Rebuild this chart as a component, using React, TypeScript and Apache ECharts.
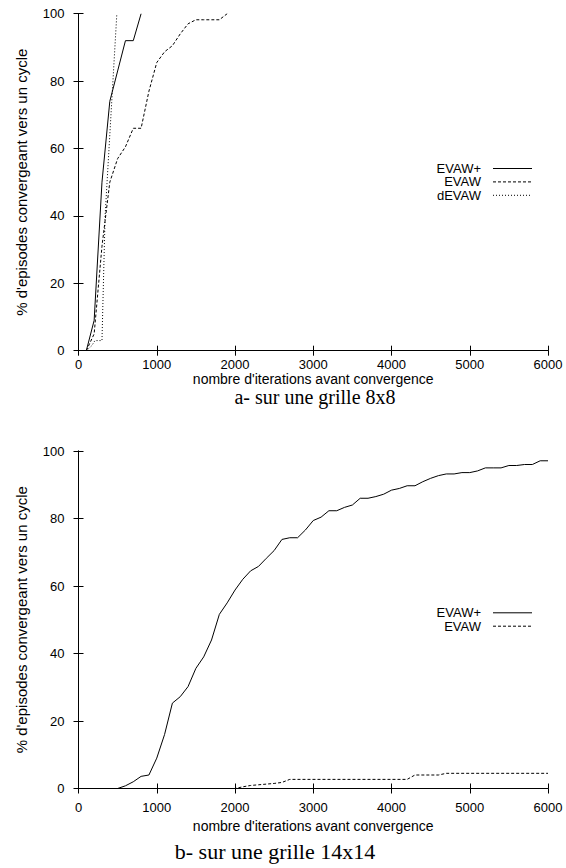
import React, { useEffect, useRef } from "react";
import * as echarts from "echarts";

// ---- data: grid 8x8 (top) ----
const topEvawPlus: [number, number][] = [
  [100, 0], [200, 9], [300, 50], [400, 74], [500, 83], [600, 92], [700, 92], [800, 100],
];
const topEvaw: [number, number][] = [
  [100, 0], [200, 5], [300, 31], [400, 50], [500, 57], [600, 60.5], [700, 66], [800, 66],
  [900, 77], [1000, 85.5], [1100, 88.7], [1200, 90.5], [1300, 94], [1400, 97], [1500, 98.2],
  [1600, 98.2], [1700, 98.2], [1800, 98.2], [1900, 100],
];
const topDEvaw: [number, number][] = [
  [100, 0], [170, 1.5], [210, 3], [300, 3], [340, 40], [490, 100],
];

// ---- data: grid 14x14 (bottom) ----
const botX: number[] = [
  0, 500, 600, 700, 800, 900, 1000, 1100, 1200, 1300, 1400, 1500, 1600, 1700, 1800, 1900,
  2000, 2100, 2200, 2300, 2400, 2500, 2600, 2700, 2800, 2900, 3000, 3100, 3200, 3300, 3400,
  3500, 3600, 3700, 3800, 3900, 4000, 4100, 4200, 4300, 4400, 4500, 4600, 4700, 4800, 4900,
  5000, 5100, 5200, 5300, 5400, 5500, 5600, 5700, 5800, 5900, 6000,
];
const botEvawPlusY: number[] = [
  0, 0, 0.8, 2, 3.6, 4, 9, 16, 25.3, 27.2, 30.2, 35.6, 39, 44, 51.6, 55,
  58.8, 62, 64.5, 65.8, 68.2, 70.5, 73.8, 74.3, 74.3, 76.6, 79.4, 80.4, 82.3, 82.3, 83.3,
  84, 86, 86, 86.5, 87.2, 88.4, 88.9, 89.7, 89.7, 90.9, 91.9, 92.7, 93.2, 93.2, 93.6,
  93.6, 94.1, 95, 95, 95, 95.7, 95.7, 96, 96, 97.1, 97.1,
];
const botEvaw: [number, number][] = [
  [0, 0], [2000, 0], [2100, 0.5], [2200, 0.9], [2300, 1.1], [2400, 1.3], [2500, 1.5],
  [2600, 1.8], [2700, 2.7], [4200, 2.7], [4300, 4], [4600, 4], [4700, 4.5], [6000, 4.5],
];

const xMin = 0, xMax = 6000, xStep = 1000;
const yMin = 0, yMax = 100, yStep = 20;

const xName = "nombre d'iterations avant convergence";
const yName = "% d'episodes convergeant vers un cycle";
const titleTop = "a- sur une grille 8x8";
const titleBot = "b- sur une grille 14x14";
const legendTop = ["EVAW+", "EVAW", "dEVAW"];
const legendBot = ["EVAW+", "EVAW"];

const SANS = '"Liberation Sans", Arial, sans-serif';
const SERIF = '"Liberation Serif", "Times New Roman", serif';
const DASH = [3, 2];
const DOT = [1, 2];

export default function App() {
  const ref = useRef<HTMLDivElement>(null);
  useEffect(() => {
    if (!ref.current) return;
    const chart = echarts.init(ref.current, null, { renderer: "svg" });

    const grids = [
      { left: 78.5, top: 13.7, width: 469.5, height: 337 },
      { left: 78.5, top: 451, width: 469.5, height: 337.5 },
    ];
    const axisLine = { show: true, lineStyle: { color: "#000", width: 1 } };
    const tick = { show: true, inside: true, length: 5, lineStyle: { color: "#000", width: 1 } };
    const label = { color: "#000", fontSize: 13, fontFamily: SANS };
    const xLabelMargin = [7, 12];
    const xNameGap = [20, 30];

    const xAxes: any[] = [];
    const yAxes: any[] = [];
    for (let g = 0; g < 2; g++) {
      xAxes.push({
        type: "value", gridIndex: g, position: "bottom", min: xMin, max: xMax, interval: xStep,
        axisLine, axisTick: tick, splitLine: { show: false },
        axisLabel: { ...label, margin: xLabelMargin[g], formatter: (v: number) => String(v) },
        name: xName, nameLocation: "middle", nameGap: xNameGap[g],
        nameTextStyle: { color: "#000", fontSize: 14, fontFamily: SANS },
      });
      xAxes.push({
        type: "value", gridIndex: g, position: "top", min: xMin, max: xMax, interval: xStep,
        axisLine, axisTick: tick, splitLine: { show: false }, axisLabel: { show: false },
      });
      yAxes.push({
        type: "value", gridIndex: g, position: "left", min: yMin, max: yMax, interval: yStep,
        axisLine, axisTick: tick, splitLine: { show: false },
        axisLabel: { ...label, margin: 14 },
        name: yName, nameLocation: "middle", nameGap: 50,
        nameTextStyle: { color: "#000", fontSize: 15, fontFamily: SANS },
      });
      yAxes.push({
        type: "value", gridIndex: g, position: "right", min: yMin, max: yMax, interval: yStep,
        axisLine, axisTick: tick, splitLine: { show: false }, axisLabel: { show: false },
      });
    }

    const mk = (name: string, data: any[], g: number, dash: any) => ({
      type: "line", name, data, xAxisIndex: g * 2, yAxisIndex: g * 2,
      showSymbol: false, symbol: "none", silent: true,
      lineStyle: { color: "#000", width: 1, type: dash },
    });

    const botEvawPlus = botX.map((x, i) => [x, botEvawPlusY[i]]);

    const legendItems = (names: string[], y0: number, dashes: any[]) =>
      names.flatMap((n, i) => {
        const y = y0 + i * 13.4;
        return [
          {
            type: "text", x: 481, y,
            style: { text: n, align: "right", verticalAlign: "middle", font: `13px ${SANS}`, fill: "#000" },
          },
          {
            type: "line", shape: { x1: 493, y1: y, x2: 532, y2: y },
            style: { stroke: "#000", lineWidth: 1, lineDash: dashes[i] },
          },
        ];
      });

    chart.setOption({
      animation: false,
      backgroundColor: "#fff",
      grid: grids,
      xAxis: xAxes,
      yAxis: yAxes,
      series: [
        mk("EVAW+", topEvawPlus, 0, "solid"),
        mk("EVAW", topEvaw, 0, DASH),
        mk("dEVAW", topDEvaw, 0, DOT),
        mk("EVAW+", botEvawPlus, 1, "solid"),
        mk("EVAW", botEvaw, 1, DASH),
      ],
      graphic: [
        ...legendItems(legendTop, 168.5, [null, DASH, DOT]),
        ...legendItems(legendBot, 612.8, [null, DASH]),
        {
          type: "text", x: 315, y: 396.5,
          style: { text: titleTop, align: "center", verticalAlign: "middle", font: `20px ${SERIF}`, fill: "#000" },
        },
        {
          type: "text", x: 275, y: 851,
          style: { text: titleBot, align: "center", verticalAlign: "middle", font: `22px ${SERIF}`, fill: "#000" },
        },
      ],
    });
    return () => chart.dispose();
  }, []);
  return (
    <div
      ref={ref}
      style={{ position: "absolute", left: 0, top: 0, width: 566, height: 868, background: "#fff" }}
    />
  );
}
